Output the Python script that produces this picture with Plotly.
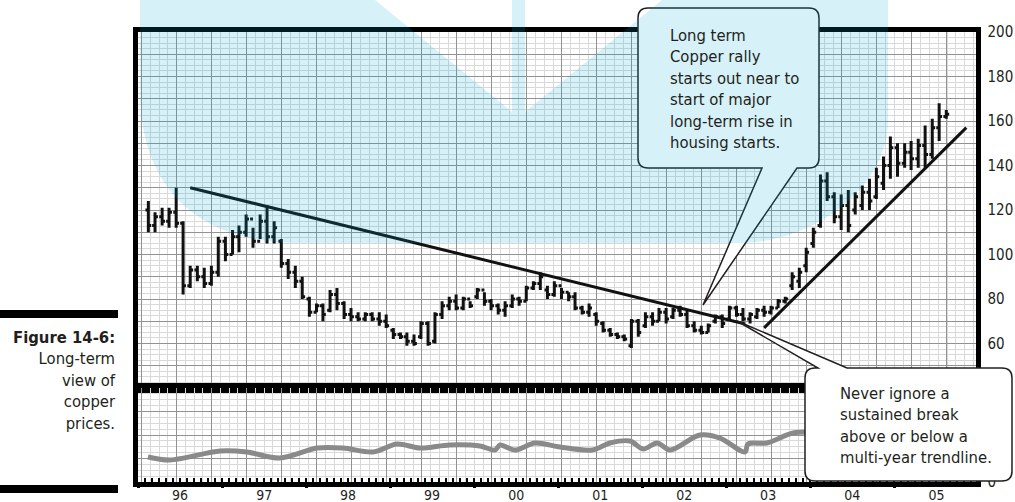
import pandas as pd
import plotly.graph_objects as go

W, H = 1015, 502
FONT = "Liberation Sans Narrow, Arial Narrow, DejaVu Sans Condensed, Roboto, sans-serif"

# monthly copper bars, Feb 1996 .. Aug 2005
opens = [120, 113, 117, 115, 119, 114, 86, 93, 90, 87, 92, 106,
         100, 108, 110, 116, 106, 115, 108, 106, 96, 92, 88, 80,
         74, 77, 75, 82, 78, 73, 72, 71, 73, 71, 70, 66,
         64, 63, 61, 63, 69, 61, 73, 77, 79, 76, 80, 81,
         84, 79, 77, 75, 77, 80, 79, 85, 87, 84, 82, 86,
         83, 81, 76, 74, 73, 69, 66, 64, 63, 59, 70, 68,
         72, 70, 74, 72, 75, 73, 68, 66, 65, 70, 72, 71,
         76, 73, 71, 72, 75, 74, 76, 79, 86, 88, 95, 105,
         113, 133, 126, 117, 122, 120, 122, 128, 126, 132, 140, 148,
         141, 146, 143, 149, 145, 157, 162]
highs = [124, 119, 121, 121, 130, 115, 95, 95, 94, 95, 108, 108,
         111, 113, 118, 112, 118, 122, 115, 107, 98, 95, 90, 81,
         78, 78, 84, 85, 79, 76, 74, 74, 74, 74, 73, 67,
         65, 65, 64, 70, 70, 74, 79, 81, 82, 81, 79, 85,
         83, 80, 78, 79, 82, 81, 86, 88, 92, 86, 88, 85,
         83, 83, 77, 78, 74, 70, 67, 65, 64, 71, 71, 74,
         74, 76, 76, 76, 77, 75, 70, 68, 69, 73, 73, 77,
         77, 76, 74, 76, 77, 77, 80, 81, 92, 94, 103, 112,
         136, 137, 128, 127, 129, 128, 131, 134, 139, 144, 153, 150,
         150, 151, 152, 158, 161, 168, 165]
lows = [110, 110, 113, 112, 112, 82, 85, 88, 85, 86, 90, 97,
        100, 101, 108, 103, 107, 105, 105, 94, 89, 85, 80, 72,
        74, 70, 74, 75, 71, 70, 70, 70, 70, 68, 67, 62,
        62, 59, 59, 62, 59, 60, 71, 75, 75, 75, 76, 80,
        77, 75, 73, 72, 76, 77, 79, 84, 84, 80, 81, 80,
        79, 75, 73, 72, 68, 65, 63, 62, 61, 58, 63, 67,
        68, 70, 69, 71, 72, 67, 65, 64, 65, 69, 67, 71,
        72, 70, 69, 71, 72, 73, 76, 78, 84, 85, 92, 103,
        112, 124, 114, 111, 110, 118, 120, 120, 125, 129, 134, 135,
        139, 138, 139, 139, 143, 151, 161]
closes = [113, 117, 115, 119, 114, 86, 93, 90, 87, 92, 106, 100,
          108, 110, 116, 106, 115, 108, 112, 96, 92, 88, 81, 74,
          77, 73, 82, 78, 73, 72, 71, 73, 71, 70, 68, 64,
          63, 61, 60, 69, 60, 73, 77, 79, 76, 80, 77, 84,
          79, 77, 75, 77, 80, 79, 85, 87, 90, 82, 86, 83,
          81, 76, 74, 76, 70, 66, 64, 63, 62, 70, 65, 72,
          70, 74, 71, 75, 73, 68, 66, 65, 68, 72, 69, 76,
          73, 71, 73, 75, 74, 76, 79, 80, 90, 92, 101, 110,
          133, 126, 117, 122, 113, 126, 128, 124, 135, 140, 148, 141,
          146, 143, 149, 145, 157, 162, 163]
months = pd.date_range("1996-02-01", periods=len(highs), freq="MS") + pd.Timedelta(days=14)

# trendlines drawn on the chart
down_x = ["1996-08-15", "2003-03-25"]
down_y = [130, 68.8]
up_x = ["2003-06-15", "2005-11-10"]
up_y = [67, 157]

# lower panel oscillator
osc_x = ["1996-02-13", "1996-05-19", "1996-12-23", "1997-04-18", "1997-09-09",
         "1998-02-18", "1998-06-10", "1998-10-18", "1999-01-31", "1999-05-11",
         "1999-09-18", "2000-01-27", "2000-04-01", "2000-04-23", "2000-06-27",
         "2000-09-22", "2001-01-09", "2001-05-28", "2001-08-14", "2001-11-09",
         "2002-01-05", "2002-03-07", "2002-05-02", "2002-09-09", "2002-12-05",
         "2003-03-24", "2003-04-06", "2003-06-27", "2003-10-19", "2004-02-01"]
osc_y = [26.6, 23.4, 33.0, 31.9, 25.5, 36.2, 36.2, 31.9, 40.4, 36.2,
         39.4, 38.3, 34.0, 39.4, 34.0, 41.5, 37.2, 34.0, 41.5, 43.6,
         35.1, 41.5, 34.0, 50.0, 46.8, 31.9, 40.4, 41.5, 52.1, 53.0]

price_ticks = list(range(40, 201, 10))
price_labels = ["", "", "60", "", "80", "", "100", "", "120", "", "140", "", "160", "", "180", "", "200"]
low_ticks = [0, 25, 50, 75, 100]
low_labels = ["0", "", "", "", ""]

callout_top = "Long term<br>Copper rally<br>starts out near to<br>start of major<br>long-term rise in<br>housing starts."
callout_bottom = "Never ignore a<br>sustained break<br>above or below a<br>multi-year trendline."
caption = "<b>Figure 14-6:</b><br>Long-term<br>view of<br>copper<br>prices."


def path(*segs):
    out = []
    for cmd, *pts in segs:
        xy = " ".join(f"{x / W:.5f},{1 - y / H:.5f}" for x, y in zip(pts[::2], pts[1::2]))
        out.append(cmd + xy)
    return " ".join(out) + " Z"


xr = ["1996-01-01", "2005-12-20"]
xdom = [138 / W, 975.5 / W]
ydom = [1 - 388 / H, 1 - 32 / H]
y2dom = [1 - 482 / H, 1 - 388 / H]
MAJ, MIN = "#8f9393", "#d9d9d9"

fig = go.Figure()
fig.add_trace(go.Ohlc(x=months, open=opens, high=highs, low=lows, close=closes,
                      increasing=dict(line=dict(color="#111", width=3)),
                      decreasing=dict(line=dict(color="#111", width=3)),
                      tickwidth=0.45, showlegend=False, hoverinfo="skip"))
fig.add_trace(go.Scatter(x=down_x, y=down_y, mode="lines", line=dict(color="#111", width=3),
                         showlegend=False, hoverinfo="skip"))
fig.add_trace(go.Scatter(x=up_x, y=up_y, mode="lines", line=dict(color="#111", width=3),
                         showlegend=False, hoverinfo="skip"))
fig.add_trace(go.Scatter(x=osc_x, y=osc_y, mode="lines", xaxis="x2", yaxis="y2",
                         line=dict(color="#8a8a8a", width=5, shape="spline", smoothing=0.9),
                         showlegend=False, hoverinfo="skip"))
for ax in ["x3", "x4"]:
    fig.add_trace(go.Scatter(x=[], y=[], xaxis=ax, yaxis="y2", showlegend=False, hoverinfo="skip"))

grid_x = dict(type="date", range=xr, domain=xdom, automargin=False, showgrid=True, gridcolor=MAJ,
              gridwidth=1.3, tick0="1996-01-17", dtick="M5", ticks="", showticklabels=False,
              minor=dict(showgrid=True, gridcolor=MIN, gridwidth=1, dtick=3288000000, tick0="1996-01-17"),
              showline=True, mirror=True, linecolor="black", linewidth=5, zeroline=False)

fig.update_layout(
    width=W, height=H, margin=dict(l=0, r=0, t=0, b=0, pad=0),
    paper_bgcolor="white", plot_bgcolor="white", showlegend=False,
    font=dict(family=FONT, color="#231f20"),
    xaxis=dict(grid_x, anchor="y", rangeslider=dict(visible=False)),
    xaxis2=dict(grid_x, anchor="y2"),
    xaxis3=dict(type="date", range=xr, domain=xdom, anchor="y2", overlaying="x2", automargin=False,
                tick0="1996-01-01", dtick="M12", tickformat="%y", ticklabelmode="period",
                ticks="outside", ticklen=5, tickwidth=3, tickcolor="black", ticklabelstandoff=-5,
                tickfont=dict(size=14, color="#231f20"), showgrid=False, showline=False, zeroline=False),
    xaxis4=dict(type="date", range=xr, domain=xdom, anchor="y2", overlaying="x2", automargin=False,
                tick0="1996-01-01", dtick="M1", ticks="inside", ticklen=4, tickwidth=2, tickcolor="black",
                showticklabels=False, showgrid=False, showline=False, zeroline=False),
    yaxis=dict(domain=ydom, range=[40, 200], anchor="x", side="right", automargin=False,
               tickvals=price_ticks, ticktext=price_labels, ticks="", ticklabelstandoff=4,
               tickfont=dict(size=15, color="#231f20"),
               showgrid=True, gridcolor=MAJ, gridwidth=1.3,
               minor=dict(showgrid=True, gridcolor=MIN, gridwidth=1, dtick=2.5),
               showline=True, mirror=True, linecolor="black", linewidth=5, zeroline=False),
    yaxis2=dict(domain=y2dom, range=[0, 100], anchor="x2", side="right", automargin=False,
                tickvals=low_ticks, ticktext=low_labels, ticks="", ticklabelstandoff=4,
                tickfont=dict(size=15, color="#231f20"),
                showgrid=True, gridcolor=MAJ, gridwidth=1.3,
                minor=dict(showgrid=True, gridcolor=MIN, gridwidth=1, dtick=6.25),
                showline=True, mirror=True, linecolor="black", linewidth=5, zeroline=False),
)

# callout balloons (white, outlined)
balloon = dict(type="path", xref="paper", yref="paper", layer="above",
               fillcolor="white", line=dict(color="#231f20", width=1.5))
fig.add_shape(balloon, path=path(("M", 648, 8), ("L", 809, 8), ("Q", 819, 8, 819, 18), ("L", 819, 158),
                                  ("Q", 819, 168, 809, 168), ("L", 797, 168), ("L", 703, 305), ("L", 762, 168),
                                  ("L", 648, 168), ("Q", 638, 168, 638, 158), ("L", 638, 18),
                                  ("Q", 638, 8, 648, 8)))
fig.add_shape(balloon, path=path(("M", 815, 368), ("L", 818, 368), ("L", 737, 321), ("L", 847, 368),
                                  ("L", 1002, 368), ("Q", 1012, 368, 1012, 378), ("L", 1012, 471),
                                  ("Q", 1012, 481, 1002, 481), ("L", 815, 481), ("Q", 805, 481, 805, 471),
                                  ("L", 805, 378), ("Q", 805, 368, 815, 368)))

# light blue backdrop tint
fig.add_shape(type="path", xref="paper", yref="paper", layer="above", line=dict(width=0),
              fillcolor="rgba(0,165,205,0.16)",
              path=path(("M", 140, 0), ("L", 375, 0), ("L", 512, 112), ("L", 512, 0), ("L", 525, 0),
                        ("L", 525, 112), ("L", 662, 0), ("L", 888, 0), ("L", 888, 120),
                        ("C", 888, 190, 810, 243, 740, 243), ("L", 300, 243),
                        ("C", 200, 243, 140, 190, 140, 90)))

# caption rules
for y0 in [310, 485]:
    fig.add_shape(type="rect", xref="paper", yref="paper", x0=0, x1=118 / W,
                  y0=1 - (y0 + 8) / H, y1=1 - y0 / H, fillcolor="black", line=dict(width=0))

fig.add_annotation(x=668 / W, y=1 - 88.5 / H, xref="paper", yref="paper", xanchor="left", yanchor="middle",
                   align="left", text=callout_top, showarrow=False, font=dict(size=16.5, color="#231f20"))
fig.add_annotation(x=838 / W, y=1 - 425 / H, xref="paper", yref="paper", xanchor="left", yanchor="middle",
                   align="left", text=callout_bottom, showarrow=False, font=dict(size=16.5, color="#231f20"))
fig.add_annotation(x=118 / W, y=1 - 380.5 / H, xref="paper", yref="paper", xanchor="right", yanchor="middle",
                   align="right", text=caption, showarrow=False, font=dict(size=16.5, color="#231f20"))

fig.write_html("out.html", config={"displayModeBar": False},
               post_script="document.body.style.margin = '0';")
